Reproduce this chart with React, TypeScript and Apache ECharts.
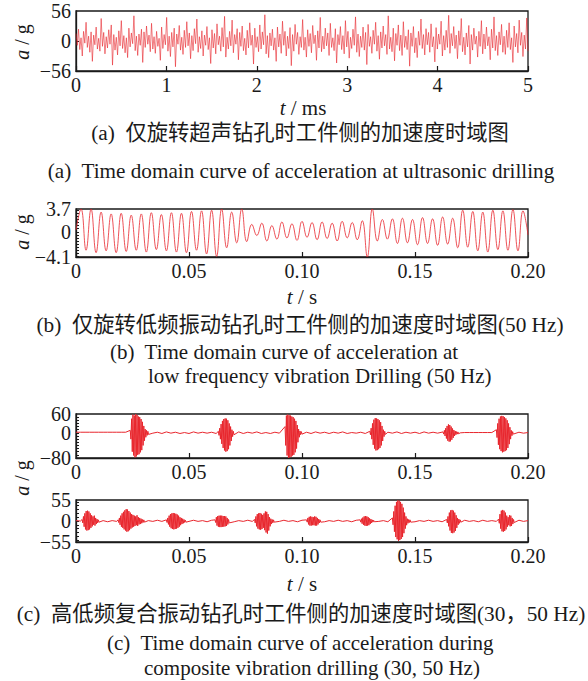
import React, { useEffect, useRef } from 'react';
import * as echarts from 'echarts';

// ---------- data ----------
// (a) ultrasonic drilling, 0–5 ms, uniformly sampled
const ultrasonicEndMs = 5;
const ultrasonicValues = [
  14, -8, 22, -16, 6, -28, 18, -4, 35, -12, 9, -21, 17, -38, 11, -7, 26, -15, 5, -19,
  42, -10, 16, -24, 8, -13, 21, -6, 30, -45, 12, -17, 7, -26, 19, -9, 38, -14, 10, -22,
  6, -31, 24, -11, 15, -5, 47, -18, 9, -27, 13, -8, 22, -40, 17, -12, 28, -6, 11, -20,
  33, -15, 8, -23, 18, -10, 5, -36, 26, -14, 12, -7, 44, -19, 9, -29, 16, -11, 24, -48,
  13, -6, 29, -17, 7, -25, 20, -12, 36, -9, 15, -33, 10, -18, 23, -5, 41, -21, 8, -14,
  19, -28, 11, -8, 27, -16, 6, -42, 21, -13, 14, -24, 32, -7, 9, -19, 25, -11, 46, -30,
  7, -15, 18, -9, 39, -22, 12, -6, 23, -35, 16, -10, 28, -18, 5, -26, 20, -13, 34, -8,
  11, -43, 24, -12, 8, -20, 30, -15, 17, -7, 49, -24, 10, -31, 15, -9, 22, -17, 6, -38,
  26, -11, 13, -23, 37, -8, 18, -28, 9, -14, 25, -46, 12, -19, 31, -6, 16, -25, 8, -12,
  40, -17, 7, -30, 21, -10, 14, -22, 29, -5, 11, -36, 19, -13, 44, -20, 9, -15, 24, -9,
  15, -27, 33, -12, 6, -18, 23, -41, 12, -7, 27, -16, 10, -24, 38, -11, 18, -32, 7, -14,
  22, -8, 45, -21, 13, -29, 9, -12, 26, -17, 16, -44, 31, -10, 8, -23, 20, -6, 35, -19,
  10, -34, 17, -13, 28, -9, 12, -25, 47, -15, 7, -20, 24, -37, 14, -8, 30, -18, 11, -27,
  36, -12, 9, -16, 21, -47, 15, -10, 27, -22, 6, -31, 18, -8, 41, -14, 12, -26, 23, -7,
  16, -21, 32, -11, 8, -39, 25, -15, 13, -6, 37, -28, 10, -17, 20, -12, 48, -23, 14, -9,
  27, -14, 11, -33, 19, -8, 42, -20, 7, -26, 15, -11, 29, -43, 12, -17, 24, -6, 9, -30,
  18, -10, 38, -24, 13, -15, 26, -9, 8, -35, 22, -13, 45, -18, 10, -27, 17, -7, 31, -21,
  9, -25, 20, -12, 34, -16, 6, -40, 28, -11, 14, -22, 39, -8, 16, -29, 11, -15, 43, -19,
];

// (b) low frequency vibration drilling (50 Hz), 0–0.2 s, peaks/troughs uniformly spaced
const lowFreqEnd = 0.2;
const lowFreqValues = [
  0.3,
  3.7, -3.0, 3.7, -3.4, 3.2, -3.1, 2.9, -3.4, 3.0, -3.2,
  2.7, -3.0, 2.9, -3.3, 3.1, -2.9, 2.8, -3.1, 3.1, -3.3,
  3.0, -3.4, 3.3, -3.0, 3.4, -3.6, 3.5, -4.0, 3.7, -2.6,
  3.2, -1.8, 3.7, -1.6, 1.2, -0.6, 1.4, -1.5, 1.0, -1.2,
  1.6, -1.0, 1.3, -1.4, 1.7, -0.9, 1.5, -1.3, 1.6, -1.1,
  1.4, -1.5, 1.7, -1.0, 1.5, -1.3, 1.8, -4.1, 3.7, -1.5,
  2.0, -1.2, 2.1, -1.9, 2.2, -1.8, 2.0, -2.1, 2.3, -1.9,
  2.1, -2.2, 2.4, -2.0, 2.2, -2.6, 3.5, -2.5, 3.3, -3.1,
  3.2, -3.3, 3.5, -2.9, 3.4, -3.0, 3.6, -3.1, 3.4, -0.5,
];

// (c) composite vibration drilling: baseline sampled every baseDt, bursts sampled every burstDt
const baseDt = 0.002;
const burstDt = 0.0003;

const compositeBaseA = [
  2, 2, 2, 2, 2, 2, 2, 2, 2, 2, 2, 2,
  2, 2, 0, 0,
  3, -1, 2, -2, 3, -1, 2, -2, 1, -2, 3, -1, 2, -1, 2, -2,
  0, 0, 0, 0,
  3, -2, 2, -1, 3, -2, 1, -2, 2, -1,
  0, 0, 0, 0, 0,
  2, -2, 3, -1, 2, -2, 2, -1, 3, -2, 1, -1, 2, -2,
  0, 0, 0, 0,
  2, -1, 3, -2, 2, -1, 2, -2, 3, -1, 2, -1,
  0, 0, 0, 0, 0,
  1, 1, 1, 1, 1, 1, 1,
  0, 0, 0, 0, 0,
  2, -1, 1,
];
const burstStartsA = [0.024, 0.063, 0.0925, 0.13, 0.1624, 0.186];
const burstValuesA = [
  [8, -20, 45, -60, 58, -72, 55, -78, 60, -75, 57, -70, 52, -68, 50, -62, 44, -55, 35, -40, 22, -25, 12, -14, 8, -8, 5, -5],
  [5, -8, 15, -20, 28, -35, 38, -48, 44, -56, 46, -60, 45, -58, 40, -52, 30, -40, 20, -26, 10, -12, 5, -6],
  [20, -40, 55, -72, 58, -80, 56, -78, 55, -76, 52, -72, 50, -70, 45, -62, 38, -50, 25, -30, 12, -14, 6, -6, 4, -4],
  [5, -6, 15, -20, 30, -38, 42, -50, 47, -56, 46, -55, 44, -52, 40, -48, 34, -40, 22, -26, 10, -12, 5, -5],
  [3, -4, 8, -10, 15, -18, 22, -25, 27, -28, 25, -27, 20, -22, 14, -16, 9, -10, 6, -6, 4, -4, 3, -3],
  [10, -15, 30, -38, 45, -52, 52, -58, 54, -62, 53, -60, 50, -58, 46, -55, 40, -48, 30, -36, 18, -20, 8, -9, 4, -4],
];

const compositeBaseB = [
  1, 0, 1, -1, 2, -1, 1, -2, 1, -1, 2, -1, 1, -1, 2, -2, 1, -1, 2, -1,
  1, -2, 2, -1, 1, -1, 2, -1, 1, -2, 2, -1, 1, -1, 2, -2, 1, -1, 2, -1,
  1, -2, 2, -1, 1, -1, 2, -1, 1, -2, 2, -1, 1, -1, 2, -2, 1, -1, 2, -1,
  1, -2, 2, -1, 1, -1, 2, -1, 1, -2, 2, -1, 1, -1, 2, -2, 1, -1, 2, -1,
  1, -2, 2, -1, 1, -1, 2, -1, 1, -2, 2, -1, 1, -1, 2, -2, 1, -1, 2, -1,
  1,
];
const burstStartsB = [0.0027, 0.0186, 0.04, 0.0615, 0.079, 0.102, 0.1257, 0.14, 0.164, 0.187];
const burstValuesB = [
  [4, -5, 12, -15, 20, -22, 26, -25, 27, -24, 25, -22, 20, -18, 15, -14, 12, -10, 14, -12, 8, -8, 5, -5, 3, -3],
  [3, -4, 8, -10, 14, -15, 20, -18, 24, -22, 28, -25, 31, -28, 30, -27, 26, -24, 22, -20, 18, -17, 16, -15, 14, -13, 12, -11, 15, -13, 10, -9, 8, -8, 6, -6, 4, -4, 3, -3],
  [3, -4, 8, -9, 14, -15, 18, -19, 20, -21, 21, -22, 20, -21, 19, -20, 17, -18, 14, -15, 10, -11, 8, -8, 6, -6, 4, -4, 2, -3],
  [3, -4, 10, -12, 13, -15, 14, -16, 14, -16, 14, -15, 13, -15, 13, -14, 12, -13, 8, -9, 4, -5],
  [4, -5, 12, -14, 18, -20, 20, -22, 21, -23, 19, -21, 16, -18, 20, -24, 25, -30, 24, -33, 18, -25, 10, -14, 6, -8, 4, -5, 3, -3],
  [3, -3, 8, -9, 11, -12, 12, -12, 11, -11, 10, -11, 12, -12, 11, -12, 8, -9, 5, -5, 3, -3],
  [3, -3, 6, -7, 9, -10, 12, -12, 13, -13, 12, -12, 10, -11, 7, -8, 5, -5, 3, -3, 2, -2],
  [8, -10, 25, -28, 40, -42, 50, -48, 54, -52, 53, -50, 50, -47, 45, -42, 35, -32, 22, -20, 12, -11, 6, -6, 4, -4, 3, -3],
  [4, -5, 12, -14, 22, -25, 28, -31, 29, -32, 27, -30, 22, -26, 15, -18, 8, -10, 5, -6, 3, -3],
  [5, -6, 18, -20, 27, -27, 29, -28, 27, -26, 22, -22, 14, -15, 10, -11, 15, -14, 14, -13, 8, -8, 4, -4],
];

// axis ranges / ticks
const yRangeA = [-56, 56];
const yRangeB = [-4.1, 3.7];
const yRangeC1 = [-80, 60];
const yRangeC2 = [-55, 55];
const yTicksA = [0];
const yTicksB = [-4, -3.5, -3, -2.5, -2, -1.5, -1, -0.5, 0, 0.5, 1, 1.5, 2, 2.5, 3, 3.5];
const yTicksC1 = [-70, -60, -50, -40, -30, -20, -10, 0, 10, 20, 30, 40, 50];
const yTicksC2 = [-50, -40, -30, -20, -10, 0, 10, 20, 30, 40, 50];

// ---------- helpers ----------
function uniform(values: number[], tEnd: number) {
  const dt = tEnd / (values.length - 1);
  return values.map((v, i) => [i * dt, v]);
}

function composite(base: number[], starts: number[], bursts: number[][]) {
  const ranges = starts.map((s, k) => [s, s + (bursts[k].length - 1) * burstDt]);
  const pts: number[][] = [];
  base.forEach((v, i) => {
    const t = i * baseDt;
    if (!ranges.some(([a, b]) => t >= a - 0.0005 && t <= b + 0.0005)) pts.push([t, v]);
  });
  starts.forEach((s, k) => bursts[k].forEach((v, j) => pts.push([s + j * burstDt, v])));
  pts.sort((p, q) => p[0] - q[0]);
  return pts;
}

const SERIF = "'Liberation Serif', 'Times New Roman', serif";
const MIXED = "'Liberation Serif', 'Noto Sans CJK SC', serif";
const INK = '#1a1a1a';
const RED = '#e8262d';

const minus = (v: number) => (v < 0 ? '\u2212' + String(Math.abs(v)) : String(v));

function xAxis(gridIndex: number, max: number, interval: number, fmt: (v: number) => string) {
  return {
    type: 'value', gridIndex, min: 0, max, interval,
    axisLine: { show: true, onZero: false, lineStyle: { color: INK, width: 1.3 } },
    axisTick: { show: true, inside: true, length: 5, lineStyle: { color: INK, width: 1.2 } },
    axisLabel: { fontFamily: SERIF, fontSize: 20, color: INK, margin: 4, formatter: fmt, hideOverlap: false },
    splitLine: { show: false },
  };
}

// main y axis: line, ticks and the end labels
function yAxis(gridIndex: number, range: number[], ticks: number[]) {
  return {
    type: 'value', gridIndex, position: 'left', min: range[0], max: range[1],
    axisLine: { show: true, onZero: false, lineStyle: { color: INK, width: 1.3 } },
    axisTick: { show: true, inside: true, length: 3, customValues: ticks, lineStyle: { color: INK, width: 1 } },
    axisLabel: {
      fontFamily: SERIF, fontSize: 20, lineHeight: 15, color: INK, margin: 5, interval: 0,
      customValues: [range[0], range[1]], formatter: minus,
      showMinLabel: true, showMaxLabel: true,
    },
    splitLine: { show: false },
  };
}

// overlay y axis on the same grid that only carries the "0" label
function yZeroAxis(gridIndex: number, range: number[]) {
  return {
    type: 'value', gridIndex, position: 'left', offset: 0, min: range[0], max: range[1],
    axisLine: { show: false },
    axisTick: { show: false },
    axisLabel: {
      fontFamily: SERIF, fontSize: 20, lineHeight: 15, color: INK, margin: 5, interval: 0,
      customValues: [0], formatter: minus, showMinLabel: false, showMaxLabel: false,
    },
    splitLine: { show: false },
  };
}

function text(x: number, y: number, t: string, opts: any = {}) {
  return {
    type: 'text', x, y, rotation: opts.rotation || 0,
    style: {
      text: t, fontFamily: opts.family || SERIF, fontSize: opts.size || 20, fill: INK,
      align: opts.align || 'center', verticalAlign: 'middle',
      rich: { i: { fontStyle: 'italic', fontFamily: SERIF, fontSize: opts.size || 20, fill: INK } },
    },
  };
}

const fmtInt = (v: number) => String(v);
const fmt2 = (v: number) => (v === 0 ? '0' : v.toFixed(2));

const grid = (top: number, height: number) => ({
  left: 76, top, width: 452, height, show: true, borderColor: INK, borderWidth: 1.3,
});

const lineSeries = (xi: number, data: number[][], width: number, smooth: number | boolean = false) => ({
  type: 'line', xAxisIndex: xi, yAxisIndex: xi, data, showSymbol: false, symbol: 'none',
  smooth, clip: true,
  lineStyle: { color: RED, width }, itemStyle: { color: RED },
});

const option = {
  animation: false,
  backgroundColor: '#ffffff',
  grid: [grid(11, 60), grid(209, 48), grid(414, 44), grid(500, 42)],
  xAxis: [
    xAxis(0, ultrasonicEndMs, 1, fmtInt),
    xAxis(1, 0.2, 0.05, fmt2),
    xAxis(2, 0.2, 0.05, fmt2),
    xAxis(3, 0.2, 0.05, fmt2),
  ],
  yAxis: [
    yAxis(0, yRangeA, yTicksA),
    yAxis(1, yRangeB, yTicksB),
    yAxis(2, yRangeC1, yTicksC1),
    yAxis(3, yRangeC2, yTicksC2),
    yZeroAxis(0, yRangeA),
    yZeroAxis(1, yRangeB),
    yZeroAxis(2, yRangeC1),
    yZeroAxis(3, yRangeC2),
  ],
  series: [
    lineSeries(0, uniform(ultrasonicValues, ultrasonicEndMs), 0.6),
    lineSeries(1, uniform(lowFreqValues, lowFreqEnd), 0.8, 0.45),
    lineSeries(2, composite(compositeBaseA, burstStartsA, burstValuesA), 1),
    lineSeries(3, composite(compositeBaseB, burstStartsB, burstValuesB), 1),
  ],
  graphic: [
    text(22, 42, '{i|a} / g', { rotation: Math.PI / 2 }),
    text(303, 108, '{i|t} / ms', { size: 21 }),
    text(300, 133, '(a)  仅旋转超声钻孔时工件侧的加速度时域图', { family: MIXED, size: 21.3 }),
    text(301, 171, '(a)  Time domain curve of acceleration at ultrasonic drilling', { size: 21.2 }),

    text(22, 232, '{i|a} / g', { rotation: Math.PI / 2 }),
    text(302, 297, '{i|t} / s', { size: 21 }),
    text(300, 325, '(b)  仅旋转低频振动钻孔时工件侧的加速度时域图(50 Hz)', { family: MIXED, size: 21.3 }),
    text(110, 352, '(b)  Time domain curve of acceleration at', { size: 21, align: 'left' }),
    text(148, 376, 'low frequency vibration Drilling (50 Hz)', { size: 21, align: 'left' }),

    text(22, 478, '{i|a} / g', { rotation: Math.PI / 2 }),
    text(302, 584, '{i|t} / s', { size: 21 }),
    text(301, 614, '(c)  高低频复合振动钻孔时工件侧的加速度时域图(30，50 Hz)', { family: MIXED, size: 21.3 }),
    text(107, 643, '(c)  Time domain curve of acceleration during', { size: 21, align: 'left' }),
    text(144, 668, 'composite vibration drilling (30, 50 Hz)', { size: 21, align: 'left' }),
  ],
};

export default function App() {
  const ref = useRef<HTMLDivElement>(null);
  useEffect(() => {
    document.body.style.margin = '0';
    const chart = echarts.init(ref.current as HTMLDivElement, null, { renderer: 'svg' });
    chart.setOption(option as any);
    return () => chart.dispose();
  }, []);
  return <div ref={ref} style={{ width: 588, height: 681, background: '#ffffff' }} />;
}
